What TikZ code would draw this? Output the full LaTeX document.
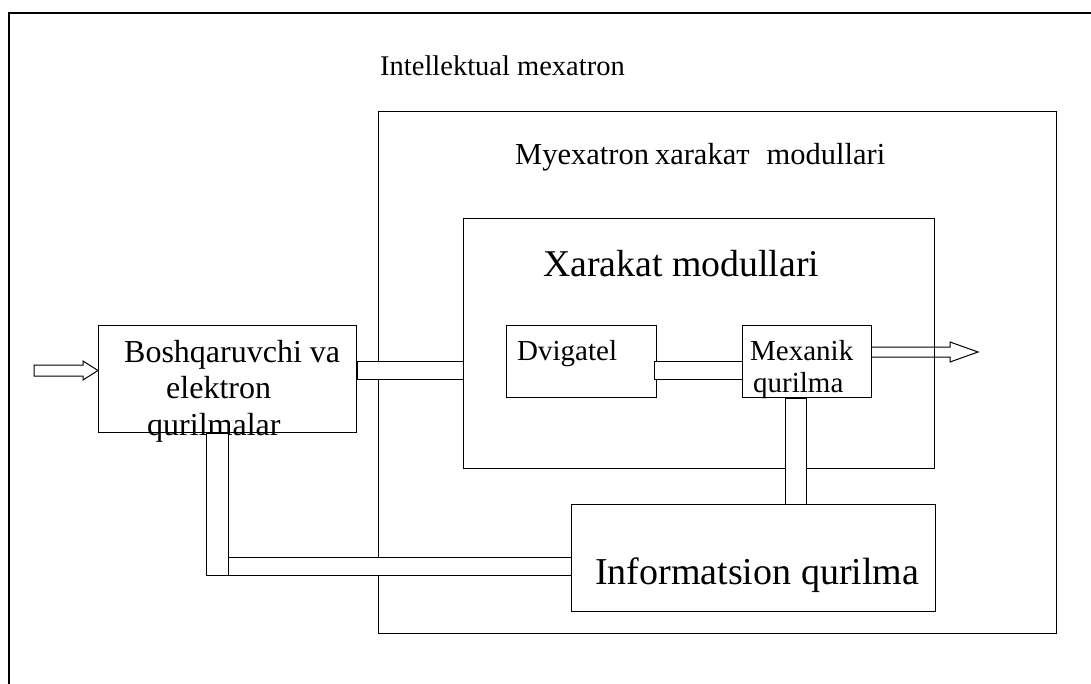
\documentclass[tikz,border=0pt]{standalone}
\usepackage{fontspec}
\setmainfont{Liberation Serif}
\begin{document}
\begin{tikzpicture}[x=1pt,y=-1pt,
  box/.style={draw=black,line width=1pt,fill=white,rectangle,inner sep=0pt,anchor=north west},
  chan/.style={draw=black,line width=1pt,fill=white},
  fat/.style={draw=black,line width=1pt,line join=miter},
  lbl/.style={inner sep=0pt,anchor=base west,text=black}]
\useasboundingbox (0,0) rectangle (1091,684);
\fill[white] (0,0) rectangle (1091,684);
% outer frame (only top and left edges visible)
\draw[line width=1.4pt] (1100,13) -- (9,13) -- (9,700);
% boxes
\node[box,minimum width=678pt,minimum height=522pt] (mex) at (378,111) {};
\node[box,minimum width=471pt,minimum height=250pt] (xar) at (463,218) {};
\node[box,minimum width=258pt,minimum height=107pt] (bosh) at (98,325) {};
\node[box,minimum width=150pt,minimum height=72pt] (dvig) at (506,325) {};
\node[box,minimum width=129pt,minimum height=72pt] (mexq) at (742,325) {};
\node[box,minimum width=364pt,minimum height=107pt] (info) at (571,504) {};
% texts
\node[lbl,font=\fontsize{28.5}{30}\selectfont] (t1) at (380,76) {Intellektual mexatron};
\node[lbl,font=\fontsize{30.5}{32}\selectfont] (t2) at (515,165) {Myexatron\hspace{6pt}xarakaт\hspace{17pt}modullari};
\node[lbl,font=\fontsize{37.8}{40}\selectfont] (t3) at (543,277) {Xarakat modullari};
\node[lbl,font=\fontsize{32}{34}\selectfont] (b1) at (124,362) {Boshqaruvchi va};
\node[lbl,font=\fontsize{32}{34}\selectfont] (b2) at (166,398) {elektron};
\node[lbl,font=\fontsize{32}{34}\selectfont] (b3) at (147,435) {qurilmalar};
\node[lbl,font=\fontsize{29}{30}\selectfont] (d1) at (517,360) {Dvigatel};
\node[lbl,font=\fontsize{29}{30}\selectfont] (m1) at (750,360) {Mexanik};
\node[lbl,font=\fontsize{29}{30}\selectfont] (m2) at (753,392) {qurilma};
\node[lbl,font=\fontsize{38}{40}\selectfont] (i1) at (595,584) {Informatsion qurilma};
% channels
\draw[chan] (bosh.east |- 0,361) rectangle (xar.west |- 0,379);
\draw[chan] ([xshift=-3pt]dvig.east |- 0,361) rectangle (mexq.west |- 0,379);
\draw[chan] (785,0 |- mexq.south) rectangle (806,0 |- info.north);
\draw[chan] (206,0 |- bosh.south) rectangle (228,575);
\draw[chan] (228,557) rectangle (info.west |- 0,575);
% input arrow
\coordinate (inA) at (34,370.5);
\draw[fat] (inA) ++(0,-5.5) -- (83,365) -- (83,361) -- (bosh.west |- 0,370.5) -- (83,380) -- (83,376) -- (34,376) -- cycle;
% output arrow
\coordinate (outT) at (978,352);
\draw[fat] (mexq.east |- 0,347) -- (950,347) -- (950,342) -- (outT) -- (950,362) -- (950,357) -- (mexq.east |- 0,357);
\end{tikzpicture}
\end{document}
